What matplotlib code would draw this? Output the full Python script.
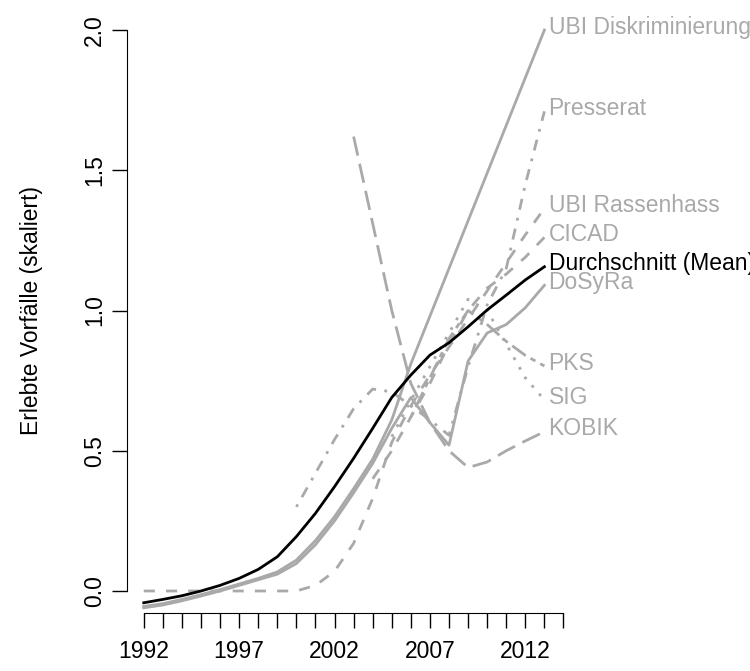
import matplotlib
matplotlib.use("Agg")
import matplotlib.pyplot as plt
import numpy as np

plt.rcParams['font.family'] = ['Liberation Sans', 'DejaVu Sans']

years = list(range(1992, 2014))
nan = np.nan

# scaled incident series (NaN = no data)
mean_vals = [-0.042, -0.030, -0.017, 0.000, 0.020, 0.045, 0.077, 0.122, 0.194, 0.277, 0.372,
             0.473, 0.580, 0.690, 0.770, 0.841, 0.885, 0.942, 1.002, 1.055, 1.109, 1.156]
ubi_diskr = [-0.055, -0.045, -0.030, -0.013, 0.005, 0.025, 0.045, 0.068, 0.110, 0.180, 0.265,
             0.365, 0.470, 0.610, 0.810, 0.980, 1.150, 1.320, 1.490, 1.660, 1.830, 2.000]
dosyra = [-0.060, -0.050, -0.035, -0.018, 0.000, 0.020, 0.040, 0.060, 0.098, 0.165, 0.250,
          0.350, 0.455, 0.580, 0.690, 0.600, 0.520, 0.820, 0.920, 0.950, 1.010, 1.090]
ubi_rass = [0.0, 0.0, 0.0, 0.0, 0.0, 0.0, 0.0, 0.0, 0.0, 0.020, 0.070,
            0.170, 0.330, 0.530, 0.660, 0.770, 0.870, 0.970, 1.070, 1.170, 1.270, 1.364]
presserat = [nan] * 8 + [0.300, 0.420, 0.540, 0.650, 0.720, 0.710, 0.660, 0.610, 0.555,
                         0.800, 1.020, 1.150, 1.450, 1.710]
kobik = [nan] * 11 + [1.620, 1.310, 1.000, 0.740, 0.600, 0.500, 0.440, 0.460, 0.500, 0.535, 0.568]
cicad = [nan] * 12 + [0.400, 0.500, 0.620, 0.740, 0.880, 1.000, 1.080, 1.130, 1.190, 1.261]
pks = [nan] * 14 + [0.620, 0.760, 0.900, 1.000, 0.950, 0.890, 0.840, 0.802]
sig = [nan] * 13 + [0.550, 0.680, 0.800, 0.920, 1.040, 1.000, 0.880, 0.760, 0.681]

grey = '#a9a9a9'
series = [
    ('UBI Diskriminierung', ubi_diskr, '-'),
    ('Presserat', presserat, (0, (1, 3, 4, 3))),
    ('UBI Rassenhass', ubi_rass, (0, (4, 4))),
    ('CICAD', cicad, (0, (4, 4))),
    ('DoSyRa', dosyra, '-'),
    ('PKS', pks, (0, (2, 2, 6, 2))),
    ('SIG', sig, (0, (1, 3))),
    ('KOBIK', kobik, (0, (7, 3))),
]

fs = 16.5
fig = plt.figure(figsize=(7.5, 6.71), dpi=100)
ax = fig.add_axes([0.1693, 0.0858, 0.6044, 0.9029])

for name, vals, ls in series:
    ax.plot(years, vals, color=grey, lw=2, linestyle=ls, dash_capstyle='butt')
    last = [v for v in vals if not np.isnan(v)][-1]
    ax.annotate(name, (years[-1], last), xytext=(3, 2), textcoords='offset points',
                color=grey, fontsize=fs, va='center', ha='left', annotation_clip=False)

ax.plot(years, mean_vals, color='black', lw=2)
ax.annotate('Durchschnitt (Mean)', (years[-1], mean_vals[-1]), xytext=(3, 2),
            textcoords='offset points', color='black', fontsize=fs, va='center',
            ha='left', annotation_clip=False)

ax.set_xlim(1991.12, 2014.88)
ax.set_ylim(-0.08, 2.08)
for s in ['top', 'right']:
    ax.spines[s].set_visible(False)
ax.spines['left'].set_bounds(0, 2)
ax.spines['bottom'].set_bounds(1992, 2014)

ax.set_xticks(range(1992, 2015))
ax.set_xticklabels([str(y) if (y - 1992) % 5 == 0 else '' for y in range(1992, 2015)])
ax.set_yticks([0, 0.5, 1.0, 1.5, 2.0])
ax.set_yticklabels(['0.0', '0.5', '1.0', '1.5', '2.0'], rotation=90, va='center')
ax.tick_params(axis='both', length=11, width=1, labelsize=fs)
ax.tick_params(axis='y', pad=4)
ax.tick_params(axis='x', pad=8)
ax.set_ylabel('Erlebte Vorfälle (skaliert)', fontsize=fs)
ax.yaxis.set_label_coords(-0.186, 0.5)

fig.savefig('out.png', dpi=100)
